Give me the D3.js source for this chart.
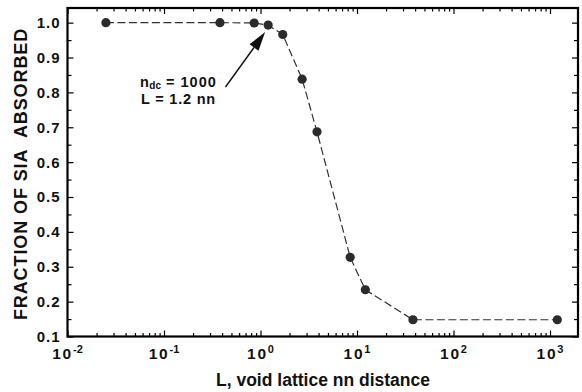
<!DOCTYPE html>
<html>
<head>
<meta charset="utf-8">
<script src="https://cdn.jsdelivr.net/npm/d3@7"></script>
<style>
  html, body { margin: 0; padding: 0; background: #fff; }
  svg { display: block; font-family: "Liberation Sans", Arial, Helvetica, sans-serif; font-weight: bold; }
</style>
</head>
<body>
<svg id="chart" width="582" height="392"></svg>
<script>
// Void lattice spacing (nn distances) and fraction of SIA absorbed
const spacing  = [0.025, 0.38, 0.86, 1.2, 1.7, 2.7, 3.85, 8.5, 12.2, 38, 1190];
const fraction = [1.0, 1.0, 0.999, 0.993, 0.966, 0.838, 0.687, 0.327, 0.234, 0.148, 0.148];

// Axis ticks
const xDecades = [-2, -1, 0, 1, 2, 3];
const yMajor = [0.1, 0.2, 0.3, 0.4, 0.5, 0.6, 0.7, 0.8, 0.9, 1.0];
const yMinor = [0.15, 0.25, 0.35, 0.45, 0.55, 0.65, 0.75, 0.85, 0.95];

// Annotation
const noteN = "1000";
const noteL = 1.2;

const svg = d3.select("#chart");
const plot = { left: 67.5, right: 578, top: 8, bottom: 336.5 };

const x = d3.scaleLog().domain([0.01, 1950]).range([plot.left, plot.right]);
const y = d3.scaleLinear().domain([0.1, 1.042]).range([plot.bottom, plot.top]);

const xMajor = xDecades.map(d => Math.pow(10, d));
const xMinor = [];
xDecades.forEach(d => {
  for (let m = 2; m <= 9; m++) {
    const v = m * Math.pow(10, d);
    if (v < x.domain()[1]) xMinor.push(v);
  }
});

// Inward ticks on all four sides
const tickAxis = (axisFn, scale, values, size, tx, ty) => {
  const g = svg.append("g")
    .attr("transform", `translate(${tx},${ty})`)
    .call(axisFn(scale).tickValues(values).tickSizeInner(size).tickSizeOuter(0).tickFormat(""));
  g.select(".domain").remove();
  g.selectAll("line").attr("stroke", "#000").attr("stroke-width", 1.2);
  return g;
};
tickAxis(d3.axisBottom, x, xMajor, -6, 0, plot.bottom);
tickAxis(d3.axisBottom, x, xMinor, -3.5, 0, plot.bottom);
tickAxis(d3.axisTop, x, xMajor, -6, 0, plot.top);
tickAxis(d3.axisTop, x, xMinor, -3.5, 0, plot.top);
tickAxis(d3.axisLeft, y, yMajor, -6, plot.left, 0);
tickAxis(d3.axisLeft, y, yMinor, -4, plot.left, 0);
tickAxis(d3.axisRight, y, yMajor, -6, plot.right, 0);
tickAxis(d3.axisRight, y, yMinor, -4, plot.right, 0);

// Frame
svg.append("rect")
  .attr("x", plot.left).attr("y", plot.top)
  .attr("width", plot.right - plot.left).attr("height", plot.bottom - plot.top)
  .attr("fill", "none").attr("stroke", "#000").attr("stroke-width", 2.2);

// Y tick labels
svg.append("g").selectAll("text").data(yMajor).join("text")
  .attr("x", 60.5).attr("y", d => y(d))
  .attr("dy", "0.36em")
  .attr("text-anchor", "end")
  .attr("font-size", 15).attr("letter-spacing", 1)
  .attr("fill", "#111")
  .text(d3.format(".1f"));

// X tick labels: 10 with superscript exponent
const xl = svg.append("g").selectAll("text").data(xDecades).join("text")
  .attr("x", d => x(Math.pow(10, d)))
  .attr("y", 358.5)
  .attr("text-anchor", "middle")
  .attr("fill", "#111");
xl.append("tspan").attr("font-size", 15.5).attr("letter-spacing", 1.8).text("10");
xl.append("tspan").attr("font-size", 11).attr("dy", -5.5).text(d => String(d));

// Axis titles
svg.append("text")
  .attr("x", 323).attr("y", 386)
  .attr("text-anchor", "middle")
  .attr("font-size", 17.5).attr("fill", "#111")
  .text("L, void lattice nn distance");

svg.append("text")
  .attr("transform", "translate(26.5,174) rotate(-90)")
  .attr("text-anchor", "middle")
  .attr("font-size", 18).attr("letter-spacing", 0.9)
  .attr("fill", "#111")
  .attr("xml:space", "preserve")
  .text("FRACTION OF SIA  ABSORBED");

// Dashed connecting line
const pts = spacing.map((v, i) => [v, fraction[i]]);
svg.append("path")
  .datum(pts)
  .attr("fill", "none")
  .attr("stroke", "#333")
  .attr("stroke-width", 1.2)
  .attr("stroke-dasharray", "8,3.5")
  .attr("d", d3.line().x(d => x(d[0])).y(d => y(d[1])));

// Markers
svg.append("g").selectAll("circle").data(pts).join("circle")
  .attr("cx", d => x(d[0])).attr("cy", d => y(d[1]))
  .attr("r", 4.6)
  .attr("fill", "#2b2b2b");

// Annotation text
const t1 = svg.append("text").attr("x", 140).attr("y", 87).attr("font-size", 14.5).attr("fill", "#111");
t1.append("tspan").attr("letter-spacing", 0.5).text("n");
t1.append("tspan").attr("font-size", 10).attr("dy", 2).text("dc");
t1.append("tspan").attr("dy", -2).attr("letter-spacing", 1).text(" = " + noteN);
svg.append("text").attr("x", 141).attr("y", 104).attr("font-size", 14.5)
  .attr("letter-spacing", 0.8).attr("fill", "#111")
  .text("L = " + noteL + " nn");

// Arrow pointing at the annotated point
const target = pts[spacing.indexOf(noteL)];
const tip = [x(target[0]) - 3, y(target[1]) + 7];
const tail = [225.5, 87];
const ang = Math.atan2(tip[1] - tail[1], tip[0] - tail[0]);
const headLen = 19, headHalf = 5.5;
const base = [tip[0] - headLen * Math.cos(ang), tip[1] - headLen * Math.sin(ang)];
const nx = -Math.sin(ang), ny = Math.cos(ang);
svg.append("line")
  .attr("x1", tail[0]).attr("y1", tail[1])
  .attr("x2", base[0]).attr("y2", base[1])
  .attr("stroke", "#111").attr("stroke-width", 1.4);
svg.append("polygon")
  .attr("points", [tip, [base[0] + nx * headHalf, base[1] + ny * headHalf], [base[0] - nx * headHalf, base[1] - ny * headHalf]].map(p => p.join(",")).join(" "))
  .attr("fill", "#111");
</script>
</body>
</html>
